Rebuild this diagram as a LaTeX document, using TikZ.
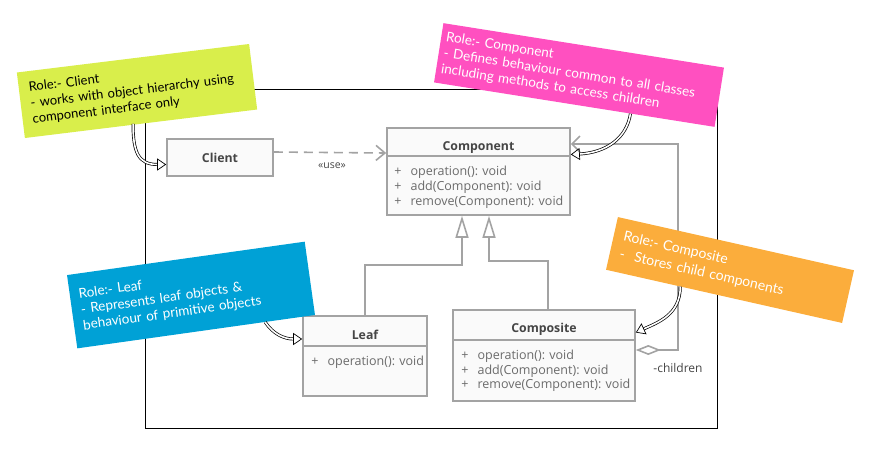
\documentclass[tikz,border=0pt]{standalone}
\usepackage{fontspec}
\setmainfont{Open Sans}
\newfontfamily\notefont{Lato}
\usetikzlibrary{arrows.meta,positioning,calc}
\definecolor{umlgrey}{HTML}{A3A3A3}
\definecolor{umlfill}{HTML}{FAFAFA}
\definecolor{umltitle}{HTML}{454545}
\definecolor{umltext}{HTML}{6B6B6B}
\definecolor{notelime}{HTML}{D9EE4B}
\definecolor{notepink}{HTML}{FF50C0}
\definecolor{noteblue}{HTML}{00A1D6}
\definecolor{noteorange}{HTML}{FBAD3C}

\begin{document}
\begin{tikzpicture}[
  x=1pt, y=-1pt,
  umlbox/.style={rectangle, draw=umlgrey, fill=umlfill, line width=1.6pt, inner sep=0pt},
  title/.style={font=\fontsize{12.3}{14}\selectfont\bfseries, text=umltitle, inner sep=0pt, anchor=base},
  attrs/.style={font=\fontsize{12.5}{14.7}\selectfont, text=umltext, align=left, inner sep=0pt,
                anchor=north west},
  note/.style={rectangle, inner sep=0pt, align=left, text=white,
               font=\notefont\fontsize{13.5}{16}\selectfont},
  g/.style={draw=umlgrey, line width=1.6pt},
  inherit/.style={g, -{Triangle[open, length=22pt, width=13pt]}},
  lbl/.style={font=\fontsize{10.5}{12}\selectfont, text=umltitle, inner sep=1pt},
  callout/.style={black, line width=0.7pt, double=white, double distance=1.6pt,
                  -{Triangle[open, length=9pt, width=12pt]}},
]
\useasboundingbox (0,0) rectangle (873,448);

% ---- frame behind everything
\draw[black, line width=0.9pt] (145,89) rectangle (717,428);

% ---- classes
\node[umlbox, minimum width=183pt, minimum height=87pt] (comp) at (478.5,171.5) {};
\node[title] (comptitle) at ([yshift=-23pt]comp.north) {Component};
\draw[g] ([yshift=-29pt]comp.north west) -- ([yshift=-29pt]comp.north east);
\node[attrs] (compattrs) at ([xshift=8pt, yshift=-39pt]comp.north west)
  {+\hspace{9pt}operation(): void\\+\hspace{9pt}add(Component): void\\+\hspace{9pt}remove(Component): void};

\node[umlbox, minimum width=106pt, minimum height=37pt,
      font=\fontsize{12.3}{14}\selectfont\bfseries, text=umltitle] (client) at (220,157.5) {Client};

\node[umlbox, minimum width=124pt, minimum height=80pt] (leaf) at (365,356) {};
\node[title] (leaftitle) at ([yshift=-24pt]leaf.north) {Leaf};
\draw[g] ([yshift=-31pt]leaf.north west) -- ([yshift=-31pt]leaf.north east);
\node[attrs] (leafattrs) at ([xshift=9pt, yshift=-40.5pt]leaf.north west)
  {+\hspace{9pt}operation(): void};

\node[umlbox, minimum width=182pt, minimum height=91pt] (composite) at (544,355.5) {};
\node[title] (compositetitle) at ([yshift=-23pt]composite.north) {Composite};
\draw[g] ([yshift=-31pt]composite.north west) -- ([yshift=-31pt]composite.north east);
\node[attrs] (compositeattrs) at ([xshift=9pt, yshift=-40.5pt]composite.north west)
  {+\hspace{9pt}operation(): void\\+\hspace{9pt}add(Component): void\\+\hspace{9pt}remove(Component): void};

% ---- relations
\draw[g, dash pattern=on 9pt off 6pt, -{Straight Barb[length=9pt, width=15pt]}]
  ([yshift=5.5pt]client.east) -- ([yshift=18.5pt]comp.west);
\node[lbl] (uselbl) at (332,166) {«use»};

\draw[inherit] (leaf.north) -- ++(0,-50) -| ([xshift=-16.5pt]comp.south);
\draw[inherit] ([xshift=4pt]composite.north) -- ++(0,-48) -| ([xshift=10.5pt]comp.south);

\draw[g, {Diamond[open, fill=white, length=25pt, width=10pt]}-{Straight Barb[length=8pt, width=16pt]}]
  ([yshift=5.5pt]composite.east) -- ++(42,0) |- ([yshift=27.5pt]comp.east);
\node[lbl, font=\fontsize{12}{14}\selectfont] (childlbl) at (678,368) {-children};

% ---- sticky notes
\node[note, fill=notelime, text=black, rotate=7, minimum width=234pt, minimum height=66pt,
      text width=214pt, font=\notefont\fontsize{13}{16}\selectfont] (clientnote) at (137,91)
  {Role:- Client\\- works with object hierarchy using\\component interface only};
\node[note, fill=notepink, rotate=-9, minimum width=284pt, minimum height=60pt,
      text width=274pt] (compnote) at (579,75)
  {Role:- Component\\- Defines behaviour common to all classes\\including methods to access children};
\node[note, fill=noteblue, rotate=8, minimum width=240pt, minimum height=74pt,
      text width=222pt] (leafnote) at (191,295)
  {Role:- Leaf\\- Represents leaf objects \&\\behaviour of primitive objects};
\node[note, fill=noteorange, rotate=-12.7, minimum width=242pt, minimum height=54pt,
      text width=222pt, font=\notefont\fontsize{14}{18}\selectfont] (compositenote) at (730,270)
  {Role:- Composite\\-\hspace{10pt}Stores child components};

% ---- callouts from notes to classes
\draw[callout] ([xshift=-8pt]clientnote.south)
  .. controls +(0,28) and +(-28,0) .. ([yshift=-7pt]client.west);
\draw[callout] ($(compnote.south)!0.4!(compnote.south east)$)
  .. controls +(-4,25) and +(35,-2) .. ([yshift=17pt]comp.east);
\draw[callout] ($(leafnote.south)!0.58!(leafnote.south east)$)
  .. controls +(8,12) and +(-18,0) .. ([yshift=17pt]leaf.west);
\draw[callout] ($(compositenote.south)!0.37!(compositenote.south west)$)
  .. controls +(0,28) and +(22,-10) .. ([yshift=23pt]composite.east);
\end{tikzpicture}
\end{document}
